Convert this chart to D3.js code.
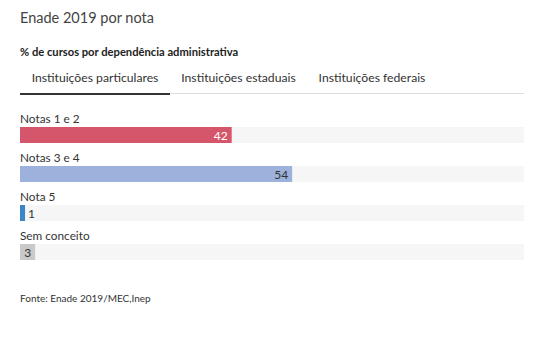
<!DOCTYPE html>
<html><head><meta charset="utf-8">
<script src="https://cdn.jsdelivr.net/npm/d3@7"></script>
<style>
body{margin:0;background:#fff;font-family:Lato,"Open Sans",sans-serif;}
svg text{font-family:Lato,"Open Sans",sans-serif;}
</style></head><body>
<svg id="c" width="539" height="344"></svg>
<script>
const title = "Enade 2019 por nota";
const subtitle = "% de cursos por dependência administrativa";
const tabs = ["Instituições particulares","Instituições estaduais","Instituições federais"];
const categories = ["Notas 1 e 2","Notas 3 e 4","Nota 5","Sem conceito"];
const values = [42,54,1,3];
const colors = ["#d5566b","#9cb2dc","#3a86c6","#c9c9c9"];
const source = "Fonte: Enade 2019/MEC,Inep";

const svg = d3.select("#c");
const x = d3.scaleLinear().domain([0,100]).range([20,524]);
const y = d3.scaleBand().domain(categories).range([110,266]).paddingInner(0).paddingOuter(0);

svg.append("text").attr("x",20).attr("y",23).attr("font-size",14.5).attr("fill","#444").text(title);
svg.append("text").attr("x",20).attr("y",56).attr("font-size",11.2).attr("font-weight","bold").attr("fill","#222").text(subtitle);

// tabs
const tabX = [20,170,307,437];
svg.append("line").attr("x1",20).attr("x2",524).attr("y1",93.5).attr("y2",93.5).attr("stroke","#ddd").attr("stroke-width",1);
tabs.forEach((t,i)=>{
  svg.append("text").attr("x",(tabX[i]+tabX[i+1])/2).attr("y",82).attr("text-anchor","middle")
    .attr("font-size",12.2).attr("fill","#333").text(t);
});
svg.append("rect").attr("x",tabX[0]).attr("y",93).attr("width",tabX[1]-tabX[0]).attr("height",2).attr("fill","#333");

const g = svg.append("g").selectAll("g").data(categories).join("g")
  .attr("transform",d=>`translate(0,${y(d)})`);
g.append("text").attr("x",20).attr("y",13).attr("font-size",11.8).attr("fill","#333").text(d=>d);
g.append("rect").attr("x",x(0)).attr("y",17).attr("width",x(100)-x(0)).attr("height",16).attr("fill","#f6f6f6");
g.append("rect").attr("x",x(0)).attr("y",17).attr("width",(d,i)=>x(values[i])-x(0)).attr("height",16).attr("fill",(d,i)=>colors[i]);
g.each(function(d,i){
  const sel = d3.select(this);
  const t = sel.append("text").attr("y",29.5).attr("font-size",12).text(values[i]);
  const tw = t.node().getComputedTextLength();
  const bw = x(values[i])-x(0);
  if (bw > tw+7) {
    t.attr("x",x(values[i])-4).attr("text-anchor","end").attr("fill", i===0?"#fff":"#333");
  } else {
    t.attr("x",x(values[i])+3).attr("fill","#333");
  }
});

svg.append("text").attr("x",20).attr("y",302).attr("font-size",10).attr("fill","#333").text(source);
</script>
</body></html>
